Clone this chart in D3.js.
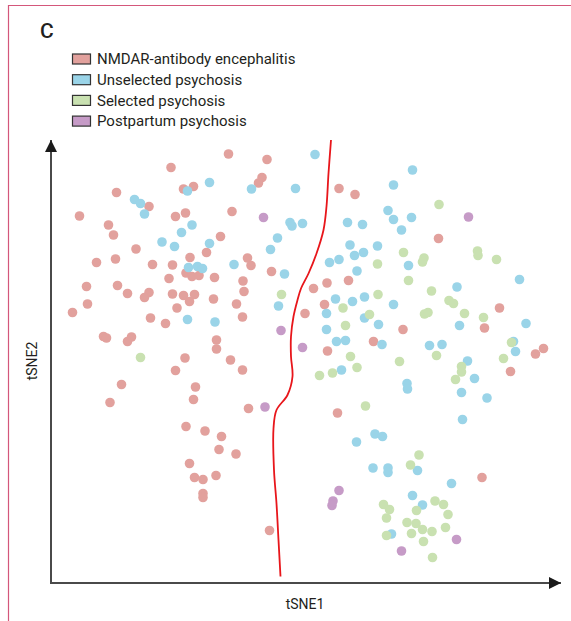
<!DOCTYPE html>
<html>
<head>
<meta charset="utf-8">
<script src="https://cdn.jsdelivr.net/npm/d3@7"></script>
<style>
  html, body { margin: 0; padding: 0; background: #fff; }
  svg { display: block; }
  text { font-family: Roboto, "Open Sans", sans-serif; fill: #231f20; }
</style>
</head>
<body>
<script>
// tSNE embedding, one array of [tSNE1, tSNE2] pairs per group
const groups = ["NMDAR-antibody encephalitis", "Unselected psychosis", "Selected psychosis", "Postpartum psychosis"];
const colors = ["#e2a19d", "#9ad4e8", "#c9e1b1", "#c69bc7"];

const nmdar = [
  [24.0,83.1],[13.1,78.1],[26.5,78.8],[28.5,79.3],[19.6,75.3],[5.7,73.4],[24.9,73.3],[26.9,74.0],
  [11.5,71.6],[12.5,69.6],[33.9,69.3],[31.1,66.1],[17.0,66.8],[27.8,65.1],[9.1,64.1],[12.9,64.8],
  [20.3,63.7],[24.3,63.6],[27.0,62.0],[28.2,61.3],[29.6,61.5],[23.6,60.9],[32.7,61.1],[7.1,59.3],
  [13.3,59.5],[15.3,57.9],[19.6,58.1],[18.7,57.1],[24.3,57.8],[26.5,57.5],[28.7,57.7],[27.7,56.3],
  [32.5,56.8],[7.3,55.8],[4.3,54.1],[25.2,55.0],[19.9,53.0],[22.9,51.9],[10.5,49.3],[11.1,49.0],
  [16.1,49.2],[15.3,48.3],[33.1,48.6],[33.1,46.8],[26.8,45.0],[24.9,42.5],[14.1,39.7],[28.9,39.2],
  [28.5,36.7],[11.8,36.1],[27.0,31.3],[30.8,30.4],[34.1,29.3],[33.6,26.7],[27.7,23.9],[28.7,21.1],
  [30.4,20.7],[33.0,21.5],[30.4,17.9],[30.4,17.1],[35.5,85.8],[43.2,84.7],[42.2,81.1],[41.5,80.0],
  [57.6,78.9],[60.8,77.7],[36.2,74.3],[39.3,65.0],[40.0,63.5],[44.1,62.3],[38.4,60.4],[38.6,58.3],
  [52.5,58.9],[55.2,60.0],[59.5,60.5],[37.1,55.8],[38.3,53.2],[35.9,44.6],[38.3,42.6],[54.7,55.7],
  [50.8,53.9],[64.5,48.3],[55.3,46.4],[39.5,34.9],[57.3,34.0],[37.0,25.8],[43.7,10.5],[77.5,68.9],
  [89.7,55.0],[70.4,50.7],[86.7,51.0],[96.9,45.8],[98.5,46.9],[91.9,42.3],[86.2,21.1]
];

const unselected = [
  [31.7,80.1],[27.3,78.4],[16.7,76.7],[17.9,75.9],[18.7,73.8],[28.2,71.6],[26.1,70.1],[22.2,68.2],
  [24.7,67.3],[31.7,67.9],[27.5,63.1],[29.3,63.3],[30.3,62.9],[27.3,52.7],[32.8,52.2],[52.8,85.7],
  [40.1,78.8],[48.9,78.9],[47.8,72.1],[48.2,71.4],[50.3,71.9],[59.3,72.1],[62.3,71.7],[45.3,69.0],
  [43.9,66.7],[59.8,67.6],[60.7,65.5],[62.5,66.1],[65.3,67.4],[36.6,63.7],[57.6,64.7],[55.7,64.1],
  [46.7,61.8],[61.2,62.4],[45.5,55.4],[56.9,56.8],[60.3,56.3],[62.7,57.2],[55.1,53.9],[62.7,53.0],
  [55.1,50.7],[65.5,51.7],[57.1,48.3],[58.9,48.5],[58.1,42.6],[72.3,82.6],[68.5,79.6],[67.4,74.5],
  [68.5,72.7],[72.1,73.1],[70.1,70.6],[71.5,63.5],[93.7,60.7],[81.2,59.2],[68.5,55.7],[81.7,51.5],
  [95.0,51.9],[66.2,47.7],[75.7,47.5],[78.2,47.7],[92.5,48.3],[92.9,46.3],[83.3,44.4],[84.7,40.9],
  [71.2,39.9],[71.3,38.8],[82.1,38.1],[87.2,37.0],[82.3,32.7],[61.1,28.2],[64.8,29.8],[66.3,29.3],
  [64.4,23.0],[67.4,23.0],[67.4,22.1],[73.3,22.5],[80.1,19.9],[72.3,17.5],[74.3,15.6],[68.1,9.8]
];

const selected = [
  [17.9,45.1],[65.3,63.8],[46.1,57.7],[58.4,55.0],[65.4,57.7],[63.7,53.7],[58.9,51.5],[59.9,45.3],
  [61.2,43.1],[56.3,42.0],[53.7,41.5],[62.9,35.4],[77.6,75.7],[70.5,66.1],[74.6,65.0],[74.3,64.2],
  [85.3,66.4],[85.4,65.5],[89.1,64.7],[71.5,60.5],[76.1,58.4],[79.6,56.5],[80.5,55.9],[74.7,53.8],
  [75.4,54.1],[82.7,53.9],[86.5,53.1],[77.1,45.5],[92.1,48.1],[90.5,44.9],[69.7,44.3],[82.1,43.3],
  [82.1,42.2],[80.9,40.7],[73.6,25.6],[71.9,23.6],[66.5,15.7],[67.7,14.7],[76.8,16.4],[78.5,15.7],
  [73.1,14.5],[79.4,13.7],[67.1,13.0],[71.2,12.1],[73.0,11.9],[74.3,10.7],[76.2,10.3],[78.9,11.1],
  [72.1,9.9],[67.1,9.5],[74.5,8.3],[76.3,5.1]
];

const postpartum = [
  [42.5,73.1],[46.0,50.5],[50.3,47.1],[42.8,35.2],[57.6,18.5],[56.4,16.4],[56.2,15.5],[83.5,73.2],
  [81.1,8.7],[70.1,6.4]
];

// boundary separating encephalitis from psychosis samples
const boundary = [
  [56.0,88.6],[55.5,81.9],[55.1,75.3],[54.5,70.6],[53.1,65.9],[51.5,61.9],[50.0,58.9],[49.3,56.6],
  [48.5,53.3],[48.0,49.3],[48.0,45.3],[48.3,41.3],[47.3,37.6],[45.1,34.6],[44.5,30.9],[44.6,22.6],
  [45.1,15.9],[45.5,8.6],[45.9,1.3]
];

const axisTitles = ["tSNE1", "tSNE2"];
const panelLabel = "C";

const W = 571, H = 621;
const svg = d3.select("body").append("svg").attr("width", W).attr("height", H);

// panel frame (top and left edges)
svg.append("path")
  .attr("d", "M8.5,621 L8.5,5.5 L571,5.5")
  .attr("fill", "none").attr("stroke", "#d4577b").attr("stroke-width", 1.2);

const x = d3.scaleLinear().domain([0, 102]).range([51, 561]);
const y = d3.scaleLinear().domain([0, 88.6]).range([583, 140]);

// arrowheads
const defs = svg.append("defs");
defs.append("marker")
  .attr("id", "arrow").attr("viewBox", "0 0 10 10")
  .attr("refX", 10).attr("refY", 5)
  .attr("markerWidth", 12).attr("markerHeight", 12)
  .attr("markerUnits", "userSpaceOnUse")
  .attr("orient", "auto")
  .append("path").attr("d", "M0,0 L10,5 L0,10 Z").attr("fill", "#1a1a1a");

const axisColor = "#4a4a4a";
svg.append("line")
  .attr("x1", x(0)).attr("y1", y(0) + 1).attr("x2", x(0)).attr("y2", y(88.6))
  .attr("stroke", axisColor).attr("stroke-width", 2).attr("marker-end", "url(#arrow)");
svg.append("line")
  .attr("x1", x(0) - 1).attr("y1", y(0)).attr("x2", x(102)).attr("y2", y(0))
  .attr("stroke", axisColor).attr("stroke-width", 2).attr("marker-end", "url(#arrow)");

// points: encephalitis first, postpartum on top
const series = [nmdar, unselected, selected, postpartum];
const r = 4.8;
series.forEach((pts, i) => {
  svg.append("g").selectAll("circle")
    .data(pts).join("circle")
    .attr("cx", d => x(d[0]))
    .attr("cy", d => y(d[1]))
    .attr("r", r)
    .attr("fill", colors[i]);
});

// boundary curve
svg.append("path")
  .datum(boundary)
  .attr("d", d3.line().x(d => x(d[0])).y(d => y(d[1])).curve(d3.curveCatmullRom))
  .attr("fill", "none").attr("stroke", "#e8161b").attr("stroke-width", 1.8);

// axis titles
svg.append("text")
  .attr("x", 305).attr("y", 609)
  .attr("text-anchor", "middle").attr("font-size", 14)
  .text(axisTitles[0]);
svg.append("text")
  .attr("transform", "translate(37,361) rotate(-90)")
  .attr("text-anchor", "middle").attr("font-size", 14)
  .text(axisTitles[1]);

// panel letter
svg.append("text")
  .attr("x", 40).attr("y", 38)
  .attr("font-size", 21).attr("font-weight", 500)
  .text(panelLabel);

// legend
const legend = svg.append("g");
const rowY = [59, 79.7, 100.4, 121.1];
groups.forEach((g, i) => {
  legend.append("rect")
    .attr("x", 72.5).attr("y", rowY[i] - 5).attr("width", 18).attr("height", 10)
    .attr("fill", colors[i]).attr("stroke", "#333").attr("stroke-width", 1.2);
  legend.append("text")
    .attr("x", 97).attr("y", rowY[i]).attr("dy", "0.35em")
    .attr("font-size", 15)
    .text(g);
});
</script>
</body>
</html>
